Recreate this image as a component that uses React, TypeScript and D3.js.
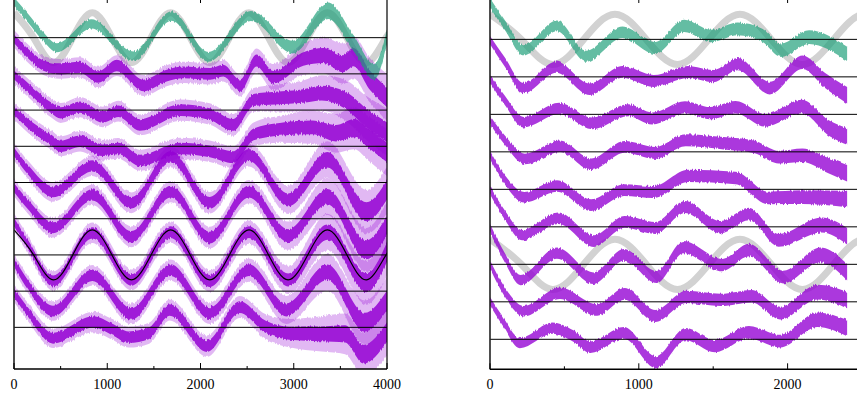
import React from 'react';
import * as d3 from 'd3';

type P = [number, number];

// ---------- axis ticks ----------
const leftXTicks = [0, 1000, 2000, 3000, 4000];
const leftXMinor = [500, 1500, 2500, 3500];
const leftTopTicks = [1000, 2000, 3000];
const rightXTicks = [0, 1000, 2000];
const rightXMinor = [500, 1500];
const rightTopTicks = [1000, 2000];
const baselines = [0, 10, 20, 30, 40, 50, 60, 70, 80];

// ---------- reference cosine (peaks / zero crossings / troughs) ----------
const refX = [0, 210, 420, 630, 840, 1050, 1260, 1470, 1680, 1890, 2100, 2310, 2520, 2730, 2940, 3150, 3360, 3570, 3780, 3990, 4200];
const refShape = [1, 0, -1, 0, 1, 0, -1, 0, 1, 0, -1, 0, 1, 0, -1, 0, 1, 0, -1, 0, 1];

// ---------- LEFT panel series (x, value relative to own baseline; baseline spacing = 10) ----------
const leftTeal: P[] = [[0, 9.9], [150, 5.4], [300, 0.7], [460, -2.8], [830, 3.8], [1280, -5.1], [1690, 6.0], [2085, -5.3], [2540, 6.0], [2990, -2.6], [3370, 7.4], [3640, -1.5], [3860, -9.5], [4000, 0.2]];
const leftT7: P[] = [[0, 9.7], [172, 5.1], [315, 2.3], [493, 1.4], [708, 1.8], [904, -0.9], [1101, 2.3], [1387, -3.2], [1637, -0.5], [1816, 0.4], [2102, 0], [2245, 0.9], [2423, -3.2], [2602, 3.7], [2781, -0.9], [3103, 4.1], [3317, 5.1], [3532, 2.8], [3639, 4.6], [3818, -1.8], [4000, -6.5]];
const leftT6: P[] = [[0, 9.7], [200, 5.0], [400, 0.6], [500, -0.8], [710, 0.8], [950, -1.9], [1120, -0.3], [1350, -4.1], [1780, 0], [2100, -1.1], [2350, -4.1], [2570, 2.8], [2800, 3.3], [3100, 3.9], [3300, 4.7], [3550, 2.8], [3780, -2.2], [4000, -6.1]];
const leftT5: P[] = [[0, 9.9], [200, 5.2], [400, 1.7], [500, 0], [710, 1.4], [950, -1.1], [1120, -0.6], [1350, -3.9], [1780, -0.6], [2100, -1.4], [2350, -3.0], [2570, 3.3], [2850, 4.7], [3200, 5.2], [3450, 3.6], [3650, 5.0], [3800, 2.2], [4000, -1.7]];
const leftT4: P[] = [[0, 8.5], [150, 3.5], [420, -2.6], [840, 4.6], [1260, -5.6], [1680, 7.1], [2100, -5.6], [2520, 7.6], [2940, -4.8], [3360, 6.3], [3780, -8.1], [4000, -2.0]];
const leftT3: P[] = [[0, 8.6], [150, 3.9], [420, -2.5], [840, 6.6], [1260, -5.0], [1680, 7.5], [2100, -5.2], [2520, 7.5], [2940, -4.7], [3360, 6.1], [3780, -8.6], [4000, -1.7]];
const leftT2: P[] = [[0, 9.1], [150, 2.8], [420, -7.2], [840, 6.1], [1260, -6.9], [1680, 6.3], [2100, -7.2], [2520, 6.3], [2940, -6.9], [3360, 6.3], [3780, -7.7], [4000, 0.8]];
const leftT1: P[] = [[0, 8.0], [150, 1.7], [420, -5.5], [840, 4.4], [1260, -6.3], [1680, 5.8], [2100, -6.1], [2520, 5.8], [2920, -5.2], [3360, 5.2], [3760, -8.6], [4000, -2.5]];
const leftT0: P[] = [[0, 9.5], [150, 4.2], [420, -3.0], [850, 1.5], [1050, -0.5], [1230, -2.7], [1450, -1.6], [1670, 4.8], [2070, -5.2], [2420, 5.6], [2700, 0.1], [2950, -1.6], [3300, -1.8], [3550, -1.8], [3750, -7.4], [4000, -1.3]];

const leftTealHalf: P[] = [[0, 1.2], [2800, 1.4], [3300, 2.3], [4000, 2.1]];
const leftDarkHalf: P[] = [[0, 1.2], [500, 1.55], [2600, 1.65], [3200, 1.9], [3700, 2.6], [4000, 2.7]];
const leftLightHalf: P[] = [[0, 2.4], [600, 2.8], [2400, 3.0], [3000, 4.0], [3500, 5.5], [4000, 6.5]];

// ---------- RIGHT panel series ----------
const rightTeal: P[] = [[0, 9.7], [100, 3.8], [225, -2.9], [450, 3.6], [645, -4.5], [890, 1.9], [1110, -2.3], [1305, 3.6], [1485, 0.9], [1665, 2.8], [1830, 1.1], [1955, -2.9], [2145, 0.6], [2400, -3.9]];
const rightT7: P[] = [[0, 9.8], [100, 3.9], [225, -3.0], [445, 2.6], [670, -3.3], [890, 1.3], [1100, -1.1], [1330, 1.3], [1500, 0.2], [1665, 3.4], [1880, -3.0], [2100, 3.9], [2250, -0.9], [2400, -4.9]];
const rightT6: P[] = [[0, 9.6], [100, 3.7], [225, -2.1], [465, 1.6], [685, -2.4], [930, 1.1], [1090, -1.1], [1310, 1.9], [1480, 0.3], [1650, 1.9], [1850, -1.6], [2095, 2.1], [2280, -3.7], [2400, -5.9]];
const rightT5: P[] = [[0, 8.5], [100, 3.1], [235, -1.9], [470, 1.5], [680, -3.3], [905, 1.3], [1110, -0.3], [1315, 3.1], [1570, 2.3], [1780, 1.3], [1940, -1.4], [2100, -0.9], [2270, -3.6], [2400, -5.7]];
const rightT4: P[] = [[0, 9.2], [100, 2.5], [230, -2.1], [450, 0.9], [680, -4.2], [900, -0.2], [1100, -0.7], [1330, 3.6], [1650, 3.0], [1870, -2.3], [2100, -2.1], [2400, -2.6]];
const rightT3: P[] = [[0, 9.8], [100, 3.1], [215, -2.2], [460, 2.3], [700, -3.8], [905, 1.3], [1110, -0.3], [1310, 5.3], [1550, -0.1], [1740, 3.4], [1940, -3.6], [2230, 0.5], [2400, -2.5]];
const rightT2: P[] = [[0, 9.7], [100, 1.7], [205, -4.2], [450, 3.0], [695, -3.7], [900, 2.5], [1120, -3.4], [1300, 4.6], [1560, -0.2], [1740, 3.8], [1970, -3.4], [2220, 2.5], [2400, -2.1]];
const rightT1: P[] = [[0, 10.0], [100, 2.6], [225, -2.5], [470, 2.3], [720, -2.2], [905, 2.1], [1110, -3.8], [1320, 1.3], [1550, 0.5], [1760, 1.5], [1950, -3.0], [2200, 2.6], [2400, 0.5]];
const rightT0: P[] = [[0, 10.2], [80, 5.2], [200, -1.0], [420, 3.0], [560, 0.9], [675, -2.1], [900, 1.7], [1115, -6.1], [1315, 1.4], [1510, -1.8], [1740, 1.9], [1950, -0.5], [2200, 5.2], [2400, 3.0]];

const rightTealHalf: P[] = [[0, 1.3], [1200, 1.6], [2400, 1.9]];
const rightDarkHalf: P[] = [[0, 1.1], [300, 1.5], [2000, 1.7], [2400, 2.2]];

type Trace = { off: number; pts: P[]; teal: boolean };
type Ref = { off: number; gray: boolean };

interface PanelProps {
  id: string;
  xd: [number, number];
  xr: [number, number];
  yd: [number, number];
  yr: [number, number];
  traces: Trace[];
  tealHalf: P[];
  darkHalf: P[];
  lightHalf: P[] | null;
  refs: Ref[];
  refAmp: number;
  ticks: number[];
  minor: number[];
  topTicks: number[];
  rightFrame: boolean;
  darkOpacity: number;
  clipRight: number;
}

const TEAL = '#1b9e77';
const VIOLET = '#9400d3';

function halfScale(h: P[]) {
  return d3.scaleLinear().domain(h.map(d => d[0])).range(h.map(d => d[1])).clamp(true);
}

function Panel(p: PanelProps) {
  const x = d3.scaleLinear().domain(p.xd).range(p.xr);
  const y = d3.scaleLinear().domain(p.yd).range(p.yr);
  const hT = halfScale(p.tealHalf);
  const hD = halfScale(p.darkHalf);
  const hL = p.lightHalf ? halfScale(p.lightHalf) : null;

  const band = (off: number, h: (v: number) => number) =>
    d3.area<P>()
      .x(d => x(d[0]))
      .y0(d => y(off + d[1] - h(d[0])))
      .y1(d => y(off + d[1] + h(d[0])))
      .curve(d3.curveMonotoneX);

  const refPts: P[] = refX.map((v, i) => [v, refShape[i]] as P);
  const refLine = (off: number) =>
    d3.line<P>().x(d => x(d[0])).y(d => y(off + p.refAmp * d[1])).curve(d3.curveNatural)(refPts) || '';

  const top = p.yr[1];
  const bottom = p.yr[0];
  const left = p.xr[0];
  const right = p.xr[1];
  const clipId = `clip-${p.id}`;

  return (
    <g>
      <defs>
        <clipPath id={clipId}>
          <rect x={left} y={top - 2} width={p.clipRight - left} height={bottom - top + 2} />
        </clipPath>
      </defs>
      <g clipPath={`url(#${clipId})`}>
        {p.refs.filter(r => r.gray).map((r, i) => (
          <path key={'g' + i} d={refLine(r.off)} fill="none" stroke="#d2d2d2" strokeWidth={7} />
        ))}
        <g filter="url(#fuzz)">
          {hL && p.traces.filter(t => !t.teal).map((t, i) => (
            <path key={'l' + i} d={band(t.off, hL)(t.pts) || ''} fill={VIOLET} fillOpacity={0.28} />
          ))}
          {p.traces.filter(t => !t.teal).map((t, i) => (
            <path key={'d' + i} d={band(t.off, hD)(t.pts) || ''} fill={VIOLET} fillOpacity={p.darkOpacity} />
          ))}
          {p.traces.filter(t => t.teal).map((t, i) => (
            <path key={'t' + i} d={band(t.off, hT)(t.pts) || ''} fill={TEAL} fillOpacity={0.68} />
          ))}
        </g>
        {p.refs.filter(r => !r.gray).map((r, i) => (
          <path key={'b' + i} d={refLine(r.off)} fill="none" stroke="#000" strokeWidth={1.2} />
        ))}
        {baselines.map(b => (
          <line key={'bl' + b} x1={left} x2={p.clipRight} y1={y(b)} y2={y(b)} stroke="#000" strokeWidth={1} />
        ))}
      </g>
      {/* frame */}
      <line x1={left} x2={left} y1={top} y2={bottom} stroke="#222" strokeWidth={1.6} />
      <line x1={left} x2={p.clipRight} y1={bottom} y2={bottom} stroke="#000" strokeWidth={1.4} />
      {p.rightFrame && <line x1={right} x2={right} y1={top} y2={bottom} stroke="#000" strokeWidth={1.2} />}
      {p.ticks.map(t => (
        <line key={'mt' + t} x1={x(t)} x2={x(t)} y1={bottom} y2={bottom - 6} stroke="#000" strokeWidth={1} />
      ))}
      {p.minor.map(t => (
        <line key={'mn' + t} x1={x(t)} x2={x(t)} y1={bottom} y2={bottom - 3} stroke="#000" strokeWidth={1} />
      ))}
      {p.topTicks.map(t => (
        <line key={'tt' + t} x1={x(t)} x2={x(t)} y1={top} y2={top + 3} stroke="#000" strokeWidth={1} />
      ))}
      {p.ticks.map(t => (
        <text key={'lb' + t} x={x(t)} y={389} textAnchor="middle" fontFamily="'Liberation Serif', 'Times New Roman', serif" fontSize={14} fill="#000">
          {String(t)}
        </text>
      ))}
    </g>
  );
}

export default function App() {
  const leftTraces: Trace[] = [
    { off: 80, pts: leftTeal, teal: true },
    { off: 70, pts: leftT7, teal: false },
    { off: 60, pts: leftT6, teal: false },
    { off: 50, pts: leftT5, teal: false },
    { off: 40, pts: leftT4, teal: false },
    { off: 30, pts: leftT3, teal: false },
    { off: 20, pts: leftT2, teal: false },
    { off: 10, pts: leftT1, teal: false },
    { off: 0, pts: leftT0, teal: false },
  ];
  const rightTraces: Trace[] = [
    { off: 80, pts: rightTeal, teal: true },
    { off: 70, pts: rightT7, teal: false },
    { off: 60, pts: rightT6, teal: false },
    { off: 50, pts: rightT5, teal: false },
    { off: 40, pts: rightT4, teal: false },
    { off: 30, pts: rightT3, teal: false },
    { off: 20, pts: rightT2, teal: false },
    { off: 10, pts: rightT1, teal: false },
    { off: 0, pts: rightT0, teal: false },
  ];
  return (
    <svg width={857} height={401} viewBox="0 0 857 401" style={{ position: 'absolute', left: 0, top: 0, background: '#fff' }}>
      <defs>
        <filter id="fuzz" filterUnits="userSpaceOnUse" x={0} y={0} width={857} height={401} colorInterpolationFilters="sRGB">
          <feTurbulence type="fractalNoise" baseFrequency="1.3 0.04" numOctaves={2} seed={7} result="noise" />
          <feColorMatrix in="noise" type="matrix" values="0 0 0 0 0.5  0 1 0 0 0  0 0 1 0 0  0 0 0 0 1" result="nm" />
          <feDisplacementMap in="SourceGraphic" in2="nm" scale={4} xChannelSelector="R" yChannelSelector="G" />
        </filter>
      </defs>
      <rect x={0} y={0} width={857} height={401} fill="#fff" />
      <Panel
        id="L"
        xd={[0, 4000]} xr={[14, 387]} yd={[-11.5, 90.4]} yr={[369, 0]}
        traces={leftTraces}
        tealHalf={leftTealHalf} darkHalf={leftDarkHalf} lightHalf={leftLightHalf}
        refs={[{ off: 80, gray: true }, { off: 20, gray: false }]}
        refAmp={6.9}
        ticks={leftXTicks} minor={leftXMinor} topTicks={leftTopTicks}
        rightFrame={true} darkOpacity={0.85} clipRight={387}
      />
      <Panel
        id="R"
        xd={[0, 2500]} xr={[490, 862]} yd={[-8, 90.5]} yr={[369.3, 0]}
        traces={rightTraces}
        tealHalf={rightTealHalf} darkHalf={rightDarkHalf} lightHalf={null}
        refs={[{ off: 80, gray: true }, { off: 20, gray: true }]}
        refAmp={6.7}
        ticks={rightXTicks} minor={rightXMinor} topTicks={rightTopTicks}
        rightFrame={false} darkOpacity={0.78} clipRight={857}
      />
    </svg>
  );
}
